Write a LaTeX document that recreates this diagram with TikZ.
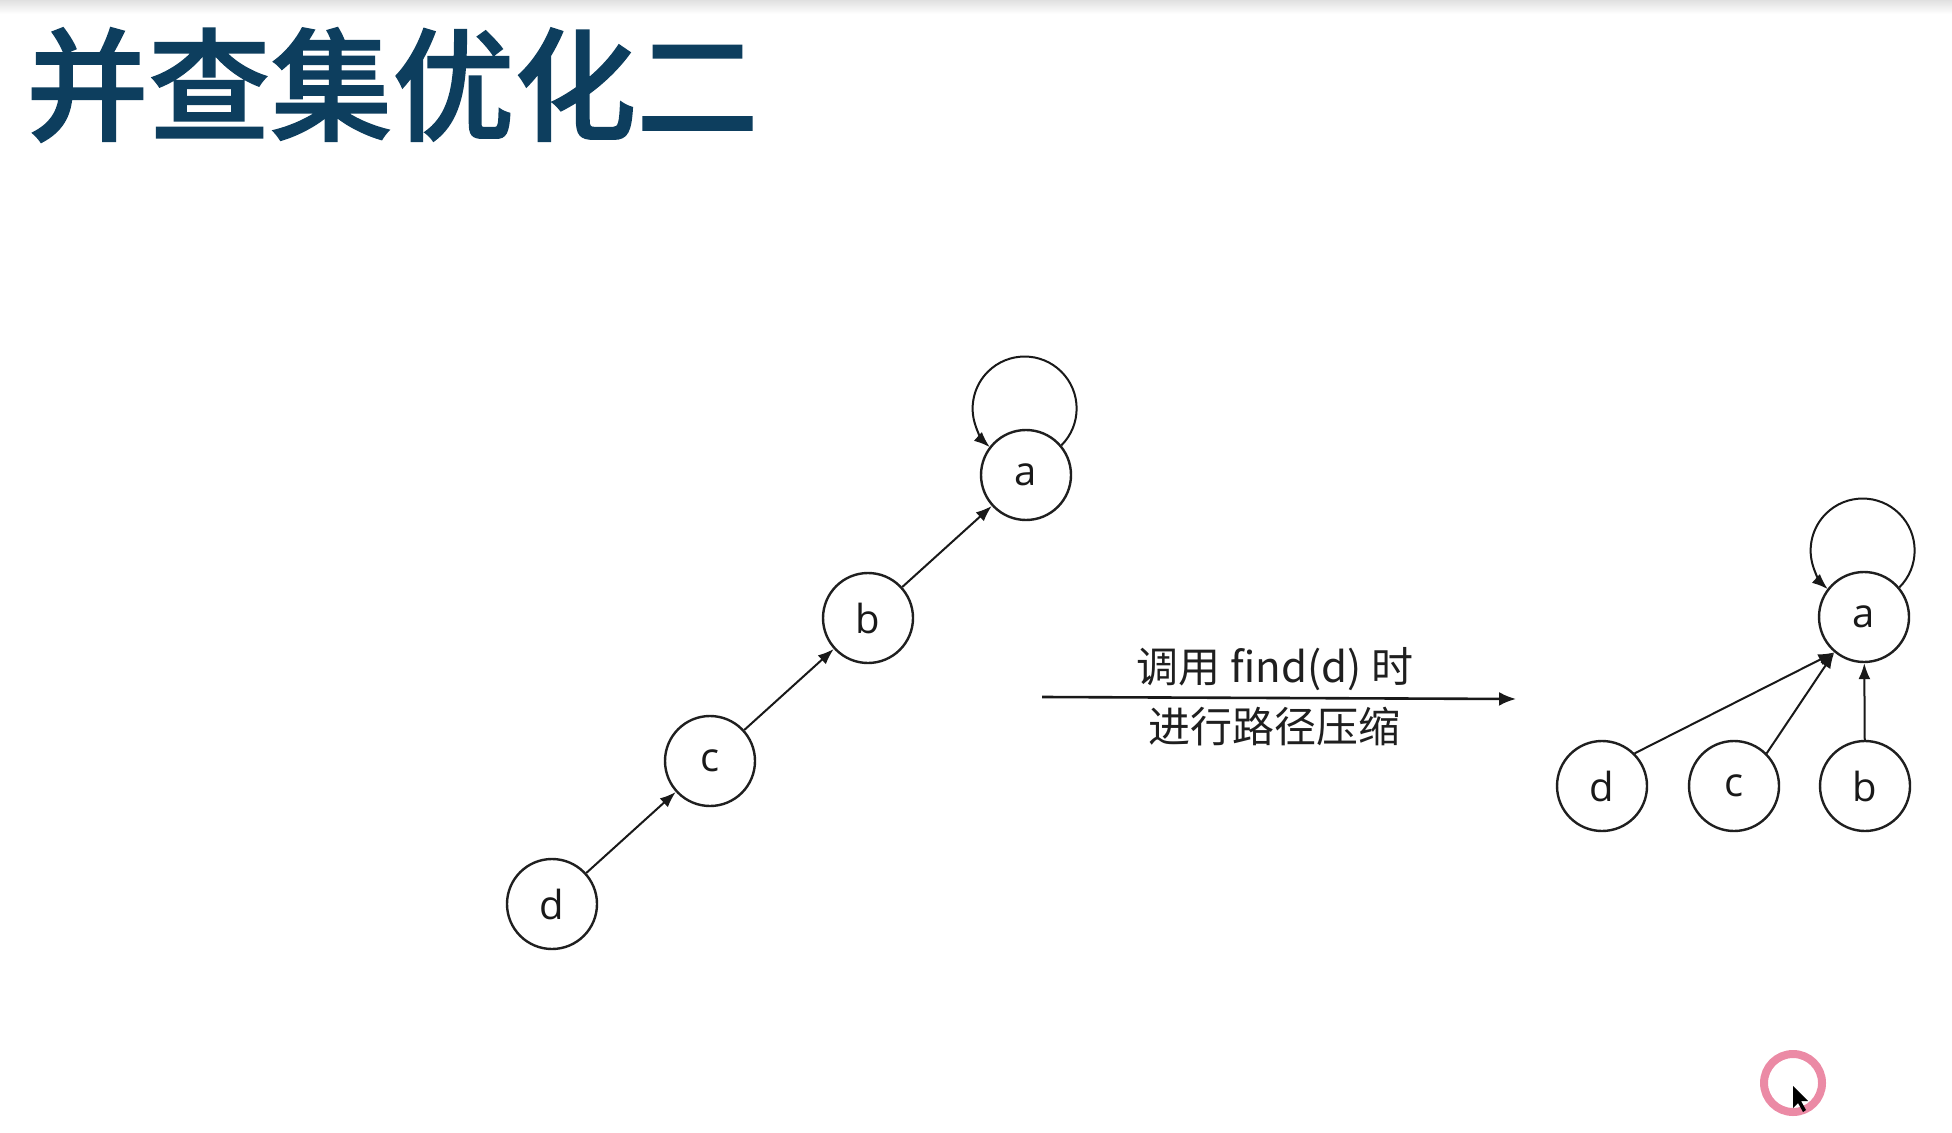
\documentclass[tikz,border=0pt]{standalone}
\usepackage{fontspec}
\usetikzlibrary{arrows.meta}
\newfontfamily\cjk{Noto Sans CJK SC}
\newfontfamily\titlef{Noto Sans CJK SC}[UprightFont={* Medium}, RawFeature={embolden=1.3}]
\newfontfamily\latin{Open Sans}
\definecolor{titleblue}{RGB}{13,62,94}
\definecolor{ringpink}{RGB}{232,118,150}
\begin{document}
\begin{tikzpicture}[x=0.5pt,y=-0.5pt,
  vert/.style={circle, draw=black!88, line width=1.2pt, minimum size=45pt, inner sep=0pt,
    font=\latin\fontsize{20}{20}\selectfont, text=black!90},
  edge/.style={line width=1pt, draw=black!90, -{Latex[length=8pt,width=6pt]}},
  bigarrow/.style={line width=1.3pt, draw=black!90, -{Latex[length=8.5pt,width=7pt]}},
  lab/.style={inner sep=0pt, font=\cjk\fontsize{21}{21}\selectfont, text=black!88}]
\useasboundingbox (0,0) rectangle (1952,1133);
\fill[white] (0,0) rectangle (1952,1133);
\shade[top color=black!12, bottom color=white] (0,0) rectangle (1952,14);

% title
\node[anchor=west, inner sep=0pt, text=titleblue,
  font=\titlef\fontsize{61}{61}\selectfont] (title) at (26,85) {并查集优化二};

% left tree (chain)
\node[vert] (a) at (1026,475) {a};
\node[vert] (b) at (868,618) {b};
\node[vert] (c) at (710,761) {c};
\node[vert] (d) at (552,904) {d};
\draw[edge] (d) -- (c);
\draw[edge] (c) -- (b);
\draw[edge] (b) -- (a);
\draw[edge] (a.40) arc[start angle=-45, end angle=228, radius=26pt];

% transformation arrow
\coordinate (s) at (1042,697);
\coordinate (t) at (1516,699);
\draw[bigarrow] (s) -- (t);
\node[lab] (l1) at (1275,669) {调用 find(d) 时};
\node[lab] (l2) at (1274,727) {进行路径压缩};

% right tree (compressed)
\node[vert] (a2) at (1864,617) {a};
\node[vert] (d2) at (1602,786) {d};
\node[vert] (c2) at (1734,786) {c};
\node[vert] (b2) at (1865,786) {b};
\draw[edge] (d2.45) -- (a2.230);
\draw[edge] (c2.45) -- (a2.230);
\draw[edge] (b2) -- (a2);
\draw[edge] (a2.40) arc[start angle=-45, end angle=228, radius=26pt];

% cursor highlight
\draw[ringpink, line width=4pt, opacity=0.85] (1793,1083) circle[radius=14.5pt];
\fill[black] (1793,1086) -- (1793,1108) -- (1798,1103) -- (1803,1112) -- (1806,1110)
  -- (1801,1101) -- (1808,1101) -- cycle;
\end{tikzpicture}
\end{document}
